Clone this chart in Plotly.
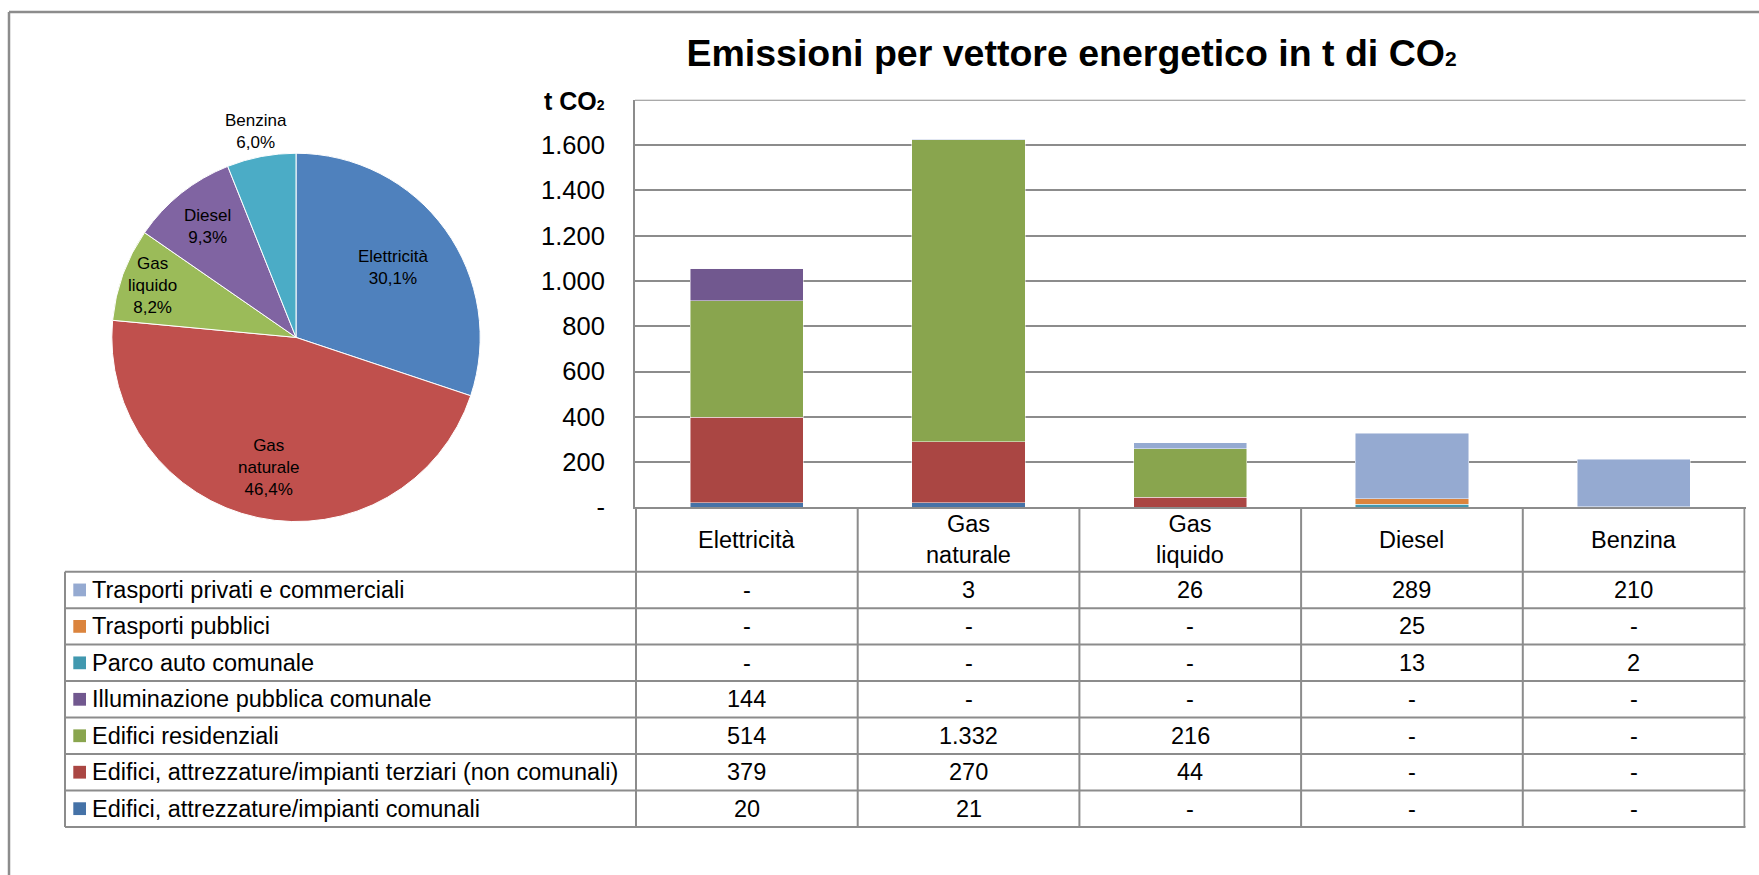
import math
import plotly.graph_objects as go

# ---------------- data ----------------
categories = ["Elettricità", "Gas naturale", "Gas liquido", "Diesel", "Benzina"]
category_labels = ["Elettricità", "Gas<br>naturale", "Gas<br>liquido", "Diesel", "Benzina"]

# table rows, top to bottom (None = "-")
trasporti_privati = [None, 3, 26, 289, 210]
trasporti_pubblici = [None, None, None, 25, None]
parco_auto_comunale = [None, None, None, 13, 2]
illuminazione_pubblica = [144, None, None, None, None]
edifici_residenziali = [514, 1332, 216, None, None]
edifici_terziari = [379, 270, 44, None, None]
edifici_comunali = [20, 21, None, None, None]

series_names = [
    "Trasporti privati e commerciali",
    "Trasporti pubblici",
    "Parco auto comunale",
    "Illuminazione pubblica comunale",
    "Edifici residenziali",
    "Edifici, attrezzature/impianti terziari (non comunali)",
    "Edifici, attrezzature/impianti comunali",
]
series_values = [
    trasporti_privati,
    trasporti_pubblici,
    parco_auto_comunale,
    illuminazione_pubblica,
    edifici_residenziali,
    edifici_terziari,
    edifici_comunali,
]
series_colors = ["#95AAD1", "#DB843D", "#4198AF", "#71588F", "#89A54E", "#AA4643", "#4572A7"]

pie_colors = ["#4F81BD", "#C0504D", "#9BBB59", "#8064A2", "#4BACC6"]

y_tick_vals = [0, 200, 400, 600, 800, 1000, 1200, 1400, 1600]
y_tick_labels = ["-", "200", "400", "600", "800", "1.000", "1.200", "1.400", "1.600"]
y_max = 1800

title_text = "<b>Emissioni per vettore energetico in t di CO<span style='font-size:21px'>2</span></b>"
y_unit_text = "<b>t CO<span style='font-size:14px'>2</span></b>"

# ---------------- layout helpers ----------------
W, H = 1759, 875
EFF_H = 862.5          # effective vertical extent used to place things (render is ~1.4% shorter)
FONT = "Liberation Sans, Arial, sans-serif"
GRID = "#8c8c8c"


def px_x(x):
    return x / W


def px_y(y):
    return 1 - y / EFF_H


PLOT_L, PLOT_R = 635, 1745.5
PLOT_T, PLOT_B = 100, 508.3
TABLE_L = 65
ROW_TOP = 572.7
ROW_H = 36.52

PIE_CX, PIE_CY, PIE_R = 296, 338, 184.5
# radial position of each pie label, as a fraction of the radius
pie_label_radius = [0.65, 0.72, 0.83, 0.77, 1.14]


def fmt(v):
    if v is None:
        return "-"
    return f"{v:,}".replace(",", ".")


fig = go.Figure()

# stacked bars: bottom of stack is the last table row
for name, vals, col in reversed(list(zip(series_names, series_values, series_colors))):
    fig.add_trace(go.Bar(
        x=categories,
        y=[v if v is not None else 0 for v in vals],
        name=name,
        marker=dict(color=col, line=dict(color="rgba(255,255,255,0.6)", width=0.8)),
        showlegend=False,
        xaxis="x", yaxis="y",
    ))

# pie of totals per energy carrier
pie_totals = [sum(s[i] for s in series_values if s[i] is not None) for i in range(len(categories))]
fig.add_trace(go.Pie(
    labels=category_labels,
    values=pie_totals,
    sort=False,
    direction="clockwise",
    rotation=0,
    marker=dict(colors=pie_colors, line=dict(color="white", width=1)),
    textinfo="none",
    showlegend=False,
    hoverinfo="label+percent",
    domain=dict(x=[px_x(PIE_CX - PIE_R), px_x(PIE_CX + PIE_R)], y=[px_y(PIE_CY + PIE_R), px_y(PIE_CY - PIE_R)]),
))

shapes = []
annotations = []

# pie labels (label + percentage, decimal comma)
total = sum(pie_totals)
cum = 0
for lab, v, fr in zip(category_labels, pie_totals, pie_label_radius):
    mid = (cum + v / 2) / total * 2 * math.pi
    cum += v
    lx = PIE_CX + fr * PIE_R * math.sin(mid)
    ly = PIE_CY - fr * PIE_R * math.cos(mid)
    pct = f"{100 * v / total:.1f}".replace(".", ",") + "%"
    annotations.append(dict(x=px_x(lx), y=px_y(ly), xref="paper", yref="paper",
                            text=f"{lab}<br>{pct}", showarrow=False,
                            xanchor="center", yanchor="middle", align="center",
                            font=dict(family=FONT, size=17, color="black")))

# outer frame (left and top)
shapes.append(dict(type="line", xref="paper", yref="paper", x0=px_x(9), x1=px_x(9), y0=px_y(12), y1=-0.05,
                   line=dict(color=GRID, width=2.5)))
shapes.append(dict(type="line", xref="paper", yref="paper", x0=px_x(9), x1=px_x(W + 5), y0=px_y(12), y1=px_y(12),
                   line=dict(color=GRID, width=2.5)))

# top gridline of the plot area
shapes.append(dict(type="line", xref="x domain", yref="y", x0=0, x1=1, y0=y_max, y1=y_max,
                   line=dict(color=GRID, width=2)))

n_rows = len(series_names)
table_bottom = ROW_TOP + n_rows * ROW_H

# vertical column lines of the data table (category boundaries)
for k in range(len(categories) + 1):
    shapes.append(dict(type="line", xref="x", yref="paper", x0=k - 0.5, x1=k - 0.5,
                       y0=px_y(PLOT_B), y1=px_y(table_bottom), line=dict(color=GRID, width=2)))
# left border of legend column
shapes.append(dict(type="line", xref="paper", yref="paper", x0=px_x(TABLE_L), x1=px_x(TABLE_L),
                   y0=px_y(ROW_TOP), y1=px_y(table_bottom), line=dict(color=GRID, width=2)))
# horizontal row lines
for r in range(n_rows + 1):
    yy = ROW_TOP + r * ROW_H
    shapes.append(dict(type="line", xref="paper", yref="paper", x0=px_x(TABLE_L), x1=px_x(PLOT_R),
                       y0=px_y(yy), y1=px_y(yy), line=dict(color=GRID, width=2)))

# header row (category names)
for cat, lab in zip(categories, category_labels):
    annotations.append(dict(x=cat, xref="x", y=px_y((PLOT_B + ROW_TOP) / 2), yref="paper",
                            text=lab, showarrow=False, xanchor="center", yanchor="middle",
                            font=dict(family=FONT, size=23.5, color="black")))

# rows: legend key + name + values
for r, (name, vals, col) in enumerate(zip(series_names, series_values, series_colors)):
    yc = ROW_TOP + (r + 0.5) * ROW_H
    shapes.append(dict(type="rect", xref="paper", yref="paper", x0=px_x(73.3), x1=px_x(86),
                       y0=px_y(yc + 6.4), y1=px_y(yc - 6.4), fillcolor=col, line=dict(width=0)))
    annotations.append(dict(x=px_x(89.5), xref="paper", y=px_y(yc), yref="paper", text=name,
                            showarrow=False, xanchor="left", yanchor="middle",
                            font=dict(family=FONT, size=23.5, color="black")))
    for cat, v in zip(categories, vals):
        annotations.append(dict(x=cat, xref="x", y=px_y(yc), yref="paper", text=fmt(v),
                                showarrow=False, xanchor="center", yanchor="middle",
                                font=dict(family=FONT, size=23.5, color="black")))

# unit label above y axis
annotations.append(dict(x=px_x(607), xref="paper", y=px_y(101), yref="paper", text=y_unit_text,
                        showarrow=False, xanchor="right", yanchor="middle",
                        font=dict(family=FONT, size=25, color="black")))

fig.update_layout(
    width=W, height=H,
    autosize=False,
    margin=dict(l=0, r=0, t=0, b=0),
    paper_bgcolor="white", plot_bgcolor="white",
    separators=",.",
    barmode="stack",
    bargap=0.489,
    font=dict(family=FONT, color="black"),
    title=dict(text=title_text, x=px_x(1071.5), y=px_y(53), xanchor="center", yanchor="middle",
               xref="paper", yref="paper", font=dict(family=FONT, size=37.5, color="black")),
    xaxis=dict(domain=[px_x(PLOT_L), px_x(PLOT_R)], type="category", showticklabels=False,
               showgrid=False, showline=True, linecolor=GRID, linewidth=2, ticks="",
               zeroline=False, fixedrange=True, anchor="y"),
    yaxis=dict(domain=[px_y(PLOT_B), px_y(PLOT_T)], range=[0, y_max], tickvals=y_tick_vals,
               ticktext=y_tick_labels, showgrid=True, gridcolor=GRID, gridwidth=2,
               showline=True, linecolor=GRID, linewidth=2, ticks="", zeroline=False,
               ticklabelstandoff=23, tickfont=dict(family=FONT, size=25.5, color="black"),
               fixedrange=True, anchor="x"),
    shapes=shapes,
    annotations=annotations,
)

page_css = ("var s='margin:0;padding:0;overflow:hidden;width:1759px;height:875px;';"
            "document.documentElement.style.cssText=s;document.body.style.cssText=s;")
fig.write_html("out.html", config={"displayModeBar": False, "responsive": False}, post_script=page_css)
